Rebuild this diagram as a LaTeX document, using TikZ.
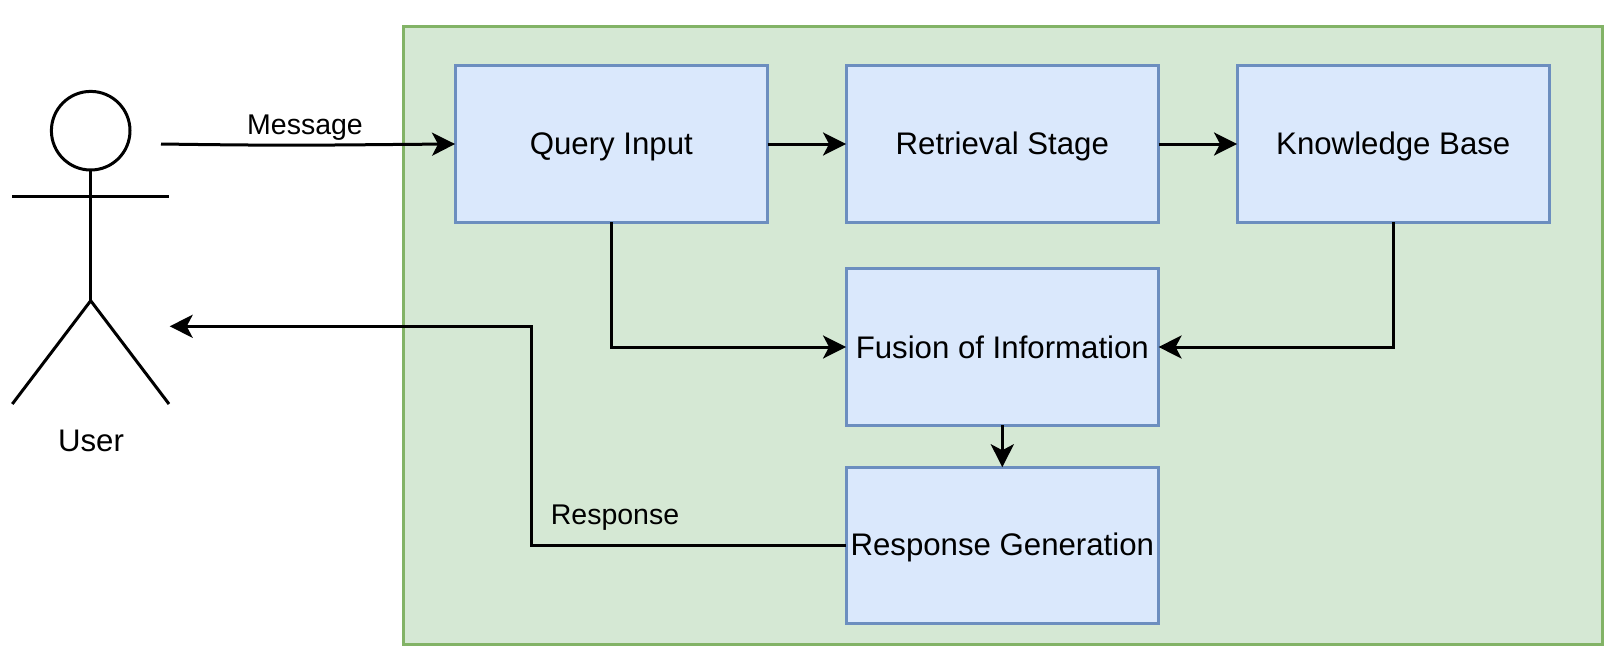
\documentclass[tikz,border=0pt]{standalone}
\usepackage{fontspec}
\setmainfont{Liberation Sans}
\usetikzlibrary{arrows.meta}
\definecolor{outerfill}{HTML}{D5E8D4}
\definecolor{outerline}{HTML}{82B366}
\definecolor{boxfill}{HTML}{DAE8FC}
\definecolor{boxline}{HTML}{6C8EBF}
\tikzset{
  x=1pt,y=-1pt,
  panel/.style={draw=outerline,fill=outerfill,line width=3pt,minimum width=1198.5pt,minimum height=617pt,inner sep=0pt,outer sep=0pt},
  stagebox/.style={draw=boxline,fill=boxfill,line width=3pt,minimum width=312.5pt,minimum height=156.5pt,inner sep=0pt,outer sep=0pt,text height=24.4pt,text depth=4pt,font=\fontsize{31.2}{36}\selectfont},
  conn/.style={draw=black,line width=3pt,-{Stealth[length=23pt,width=23pt,inset=6pt]}},
  figure/.style={draw=black,line width=3pt},
  biglabel/.style={inner sep=0pt,font=\fontsize{31.2}{36}\selectfont},
  edgelabel/.style={inner sep=0pt,font=\fontsize{28.5}{34}\selectfont},
}
\begin{document}
\begin{tikzpicture}
\useasboundingbox (0,0) rectangle (1621,661);
\node[panel] (sys) at (1003,335.5) {};
\node[stagebox] (query) at (611.3,144) {Query Input};
\node[stagebox] (retr) at (1002.3,144) {Retrieval Stage};
\node[stagebox] (kb) at (1393.3,144) {Knowledge Base};
\node[stagebox,text height=27.4pt] (fusion) at (1002.3,347) {Fusion of Information};
\node[stagebox] (resp) at (1002.3,545.5) {Response Generation};
% user figure
\node[figure,circle,minimum size=78.6pt,inner sep=0pt,outer sep=0pt] (head) at (90.7,130.7) {};
\coordinate (hip) at (90.7,300.7);
\coordinate (armL) at (12.3,196);
\coordinate (armR) at (169,196);
\coordinate (legL) at (12.3,404);
\coordinate (legR) at (169,404);
\draw[figure] (head.south) -- (hip);
\draw[figure] (armL) -- (armR);
\draw[figure] (legL) -- (hip) -- (legR);
\node[biglabel] (user) at (91,441) {User};
\coordinate (msgstart) at (161,144);
\coordinate (respend) at (169.7,326.3);
\coordinate (bendA) at (531,326.3);
\coordinate (bendB) at (531,545.5);
\draw[conn] (msgstart) .. controls (300,146) and (320,145) .. (query.west);
\node[edgelabel] (msg) at (305,127.5) {Message};
\draw[conn] (query) -- (retr);
\draw[conn] (retr) -- (kb);
\draw[conn] (query.south) |- (fusion.west);
\draw[conn] (kb.south) |- (fusion.east);
\draw[conn] (fusion) -- (resp);
\draw[conn] (resp.west) -- (bendB) -- (bendA) -- (respend);
\node[edgelabel] (rlabel) at (615,517.5) {Response};
\end{tikzpicture}
\end{document}
